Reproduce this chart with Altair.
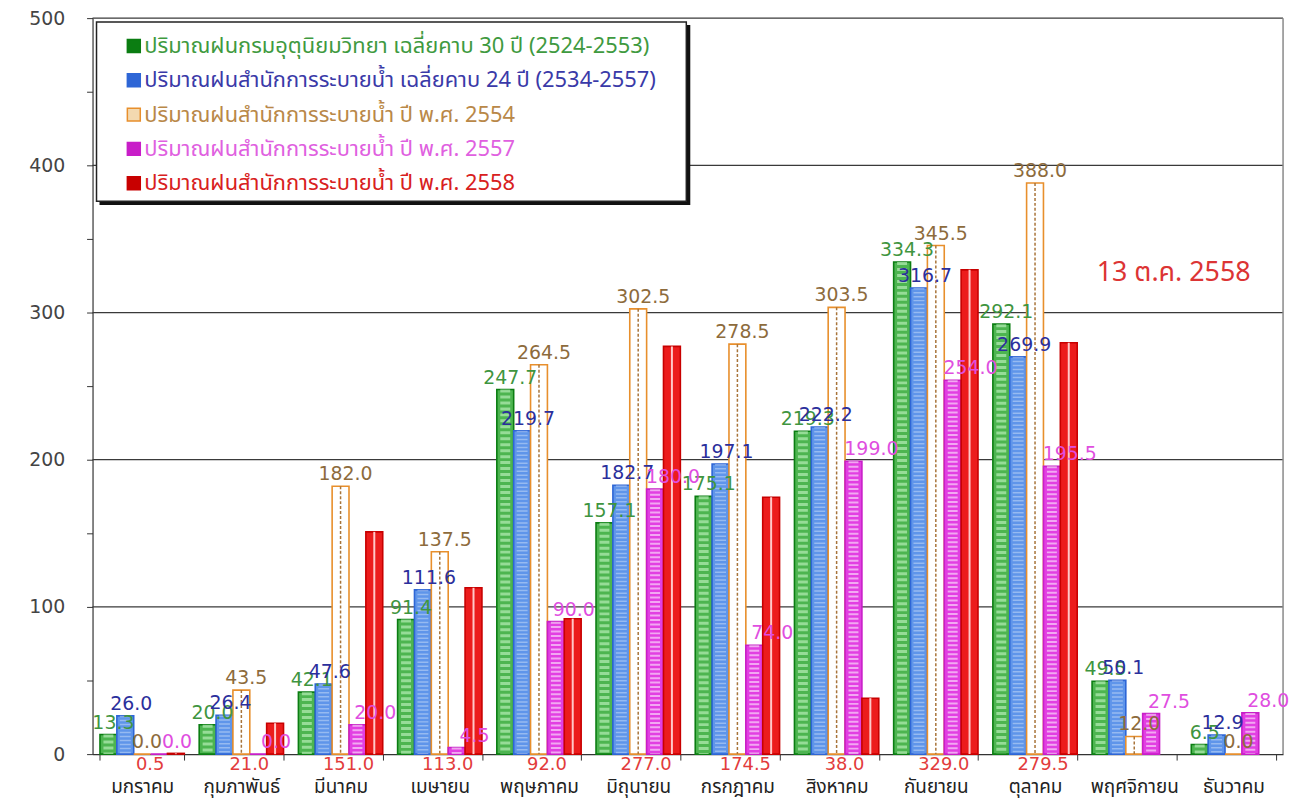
import altair as alt
import pandas as pd

# ---------------- data ----------------
months = ["มกราคม", "กุมภาพันธ์", "มีนาคม", "เมษายน", "พฤษภาคม", "มิถุนายน",
          "กรกฎาคม", "สิงหาคม", "กันยายน", "ตุลาคม", "พฤศจิกายน", "ธันวาคม"]
series_keys = ["s1", "s2", "s3", "s4", "s5"]
series_names = [
    "ปริมาณฝนกรมอุตุนิยมวิทยา เฉลี่ยคาบ 30 ปี (2524-2553)",
    "ปริมาณฝนสำนักการระบายน้ำ เฉลี่ยคาบ 24 ปี (2534-2557)",
    "ปริมาณฝนสำนักการระบายน้ำ ปี พ.ศ. 2554",
    "ปริมาณฝนสำนักการระบายน้ำ ปี พ.ศ. 2557",
    "ปริมาณฝนสำนักการระบายน้ำ ปี พ.ศ. 2558",
]
tmd_30yr = [13.3, 20.0, 42.1, 91.4, 247.7, 157.1, 175.1, 219.3, 334.3, 292.1, 49.5, 6.5]
dds_24yr = [26.0, 26.4, 47.6, 111.6, 219.7, 182.7, 197.1, 222.2, 316.7, 269.9, 50.1, 12.9]
dds_2554 = [0.0, 43.5, 182.0, 137.5, 264.5, 302.5, 278.5, 303.5, 345.5, 388.0, 12.0, 0.0]
dds_2557 = [0.0, 0.0, 20.0, 4.5, 90.0, 180.0, 74.0, 199.0, 254.0, 195.5, 27.5, 28.0]
dds_2558 = [0.5, 21.0, 151.0, 113.0, 92.0, 277.0, 174.5, 38.0, 329.0, 279.5, None, None]
y_ticks = [0, 50, 100, 150, 200, 250, 300, 350, 400, 450, 500]
grid_values = [100, 200, 300, 400, 500]
annotation = "13 ต.ค. 2558"

# ---------------- styling ----------------
W, H = 1197, 740
FONT = "DejaVu Sans"
THAI = "Tahoma, 'Noto Sans Thai', 'Loma', 'Garuda', 'DejaVu Sans', sans-serif"
styles = {
    "s1": dict(fill="#4db550", stroke="#0b7d12", text="#3f953f", legend="#3f9a3f", dx=5,
               over=dict(color="#b5ecb5", strokeDash=[3, 3], strokeWidth=10, opacity=0.7)),
    "s2": dict(fill="#5f95ea", stroke="#2e66d6", text="#2b2f9c", legend="#3a3aa8", dx=6,
               over=dict(color="#ffffff", strokeDash=[1.5, 2.5], strokeWidth=11, opacity=0.35)),
    "s3": dict(fill="#ffffff", stroke="#e88f2c", text="#8d6b3c", legend="#b98848", dx=5,
               over=dict(color="#a8743a", strokeDash=[3, 2], strokeWidth=1.5, opacity=1)),
    "s4": dict(fill="#e23fe2", stroke="#c81ec8", text="#e04ee0", legend="#e060e0", dx=18,
               over=dict(color="#ffffff", strokeDash=[2, 2.5], strokeWidth=10, opacity=0.55)),
    "s5": dict(fill="#ec1c1c", stroke="#c80000", text="#e23c3c", legend="#d82020", dx=8,
               over=dict(color="#ffc8c8", strokeWidth=2, opacity=1)),
}
series_values = [tmd_30yr, dds_24yr, dds_2554, dds_2557, dds_2558]

rows = []
for key, vals in zip(series_keys, series_values):
    for m, v in zip(months, vals):
        if v is not None:
            rows.append({"month": m, "key": key, "value": v})
df = pd.DataFrame(rows)

base = alt.Chart(df)

x_enc = alt.X(
    "month:N", sort=months,
    scale=alt.Scale(domain=months, paddingInner=0.15, paddingOuter=0.075),
    axis=alt.Axis(title=None, labelAngle=0, labelFontSize=19, labelColor="#222",
                  labelFont=THAI, labelPadding=18, tickBand="extent", tickSize=6,
                  domainColor="#333", tickColor="#333", domainWidth=1.2),
)
xo_enc = alt.XOffset("key:N", sort=series_keys,
                     scale=alt.Scale(domain=series_keys, paddingInner=0, paddingOuter=0))
y_axis = alt.Axis(title=None, values=y_ticks, grid=False,
                  labelExpr="datum.value % 100 == 0 ? datum.label : ''",
                  labelFontSize=19, labelColor="#444", labelFont=FONT, labelPadding=22,
                  tickSize=6, domainColor="#333", tickColor="#333", domainWidth=1.2)
y_scale = alt.Scale(domain=[0, 500], nice=False)
y_enc = alt.Y("value:Q", scale=y_scale, axis=y_axis)

layers = []

# grid lines
grid = alt.Chart(pd.DataFrame({"value": grid_values})).mark_rule(
    color="#3a3a3a", strokeWidth=1.3).encode(y=y_enc)
layers.append(grid)

# right frame
frame = alt.Chart(pd.DataFrame({"g": [0]})).mark_rule(color="#8a8a8a", strokeWidth=1.5).encode(
    x=alt.value(W), y=alt.value(0), y2=alt.value(H))
layers.append(frame)

for i, key in enumerate(series_keys):
    st = styles[key]
    sub = base.transform_filter(alt.datum.key == key)
    bar = sub.mark_bar(fill=st["fill"], stroke=st["stroke"], strokeWidth=1.6).encode(
        x=x_enc, xOffset=xo_enc, y=y_enc)
    layers.append(bar)
    ov = st["over"]
    over = sub.mark_rule(**ov).encode(x=x_enc, xOffset=xo_enc, y=y_enc, y2=alt.datum(0))
    layers.append(over)

# value labels
for key in series_keys[:4]:
    st = styles[key]
    lab = base.transform_filter(alt.datum.key == key).mark_text(
        baseline="bottom", dy=-2, dx=st["dx"], fontSize=19, font=FONT, color=st["text"]
    ).encode(x=x_enc, xOffset=xo_enc, y=y_enc, text=alt.Text("value:Q", format=".1f"))
    layers.append(lab)

red_lab = base.transform_filter(alt.datum.key == "s5").mark_text(
    baseline="top", dx=styles["s5"]["dx"], fontSize=18, font=FONT, color=styles["s5"]["text"]
).encode(x=x_enc, y=alt.value(H + 2), text=alt.Text("value:Q", format=".1f"))
layers.append(red_lab)

# legend box
one = pd.DataFrame({"a": [0]})
shadow = alt.Chart(one).mark_rect(fill="#111").encode(
    x=alt.value(7), x2=alt.value(601), y=alt.value(7), y2=alt.value(188))
box = alt.Chart(one).mark_rect(fill="white", stroke="#222", strokeWidth=1.5).encode(
    x=alt.value(4), x2=alt.value(597), y=alt.value(4), y2=alt.value(184))
layers += [shadow, box]
for i, (key, name) in enumerate(zip(series_keys, series_names)):
    st = styles[key]
    cy = 28 + 34.5 * i
    sq = alt.Chart(one).mark_rect(fill=st["stroke"] if key != "s3" else "#f3d9b0",
                                  stroke=st["stroke"], strokeWidth=1.5).encode(
        x=alt.value(35), x2=alt.value(48), y=alt.value(cy - 6.5), y2=alt.value(cy + 6.5))
    txt = alt.Chart(pd.DataFrame({"t": [name]})).mark_text(
        align="left", baseline="middle", fontSize=22, font=THAI, color=st["legend"]).encode(
        x=alt.value(52), y=alt.value(cy), text="t:N")
    layers += [sq, txt]

# annotation
ann = alt.Chart(pd.DataFrame({"t": [annotation]})).mark_text(
    align="center", baseline="middle", fontSize=27, font=THAI, color="#dc3434").encode(
    x=alt.value(1087), y=alt.value(256), text="t:N")
layers.append(ann)

chart = alt.layer(*layers).properties(
    width=W, height=H,
    autosize=alt.AutoSizeParams(type="none"),
    padding={"left": 85, "top": 8, "right": 10, "bottom": 53},
    background="white",
).configure_view(stroke=None)

chart.save("out.html", embed_options={"renderer": "svg", "actions": False})
